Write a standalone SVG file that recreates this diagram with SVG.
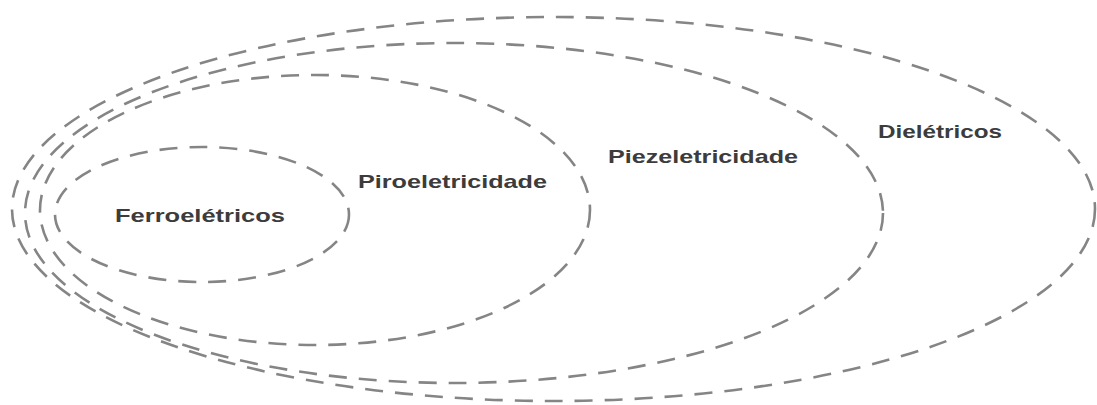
<svg xmlns="http://www.w3.org/2000/svg" width="1097" height="405" viewBox="0 0 1097 405">
<style>
.set{fill:none;stroke:#858585;stroke-width:2.6;stroke-dasharray:18 12;stroke-linecap:butt}
.lbl{font-family:"Liberation Sans",Arial,sans-serif;font-size:19px;font-weight:bold;fill:#3c3c3c}
</style>
<rect width="1097" height="405" fill="#ffffff"/>
<g id="dieletricos">
<ellipse class="set" cx="553.5" cy="209" rx="541.5" ry="192"/>
<text class="lbl" x="878" y="138" textLength="124" lengthAdjust="spacingAndGlyphs">Dielétricos</text>
</g>
<g id="piezeletricidade">
<ellipse class="set" cx="454" cy="213" rx="429" ry="170"/>
<text class="lbl" x="608" y="163" textLength="190" lengthAdjust="spacingAndGlyphs">Piezeletricidade</text>
</g>
<g id="piroeletricidade">
<ellipse class="set" cx="315" cy="210" rx="275" ry="135"/>
<text class="lbl" x="358" y="188" textLength="189" lengthAdjust="spacingAndGlyphs">Piroeletricidade</text>
</g>
<g id="ferroeletricos">
<ellipse class="set" cx="202" cy="214.5" rx="147" ry="67.5"/>
<text class="lbl" x="115" y="222" textLength="170" lengthAdjust="spacingAndGlyphs">Ferroelétricos</text>
</g>
<g id="connectors"/>
</svg>
